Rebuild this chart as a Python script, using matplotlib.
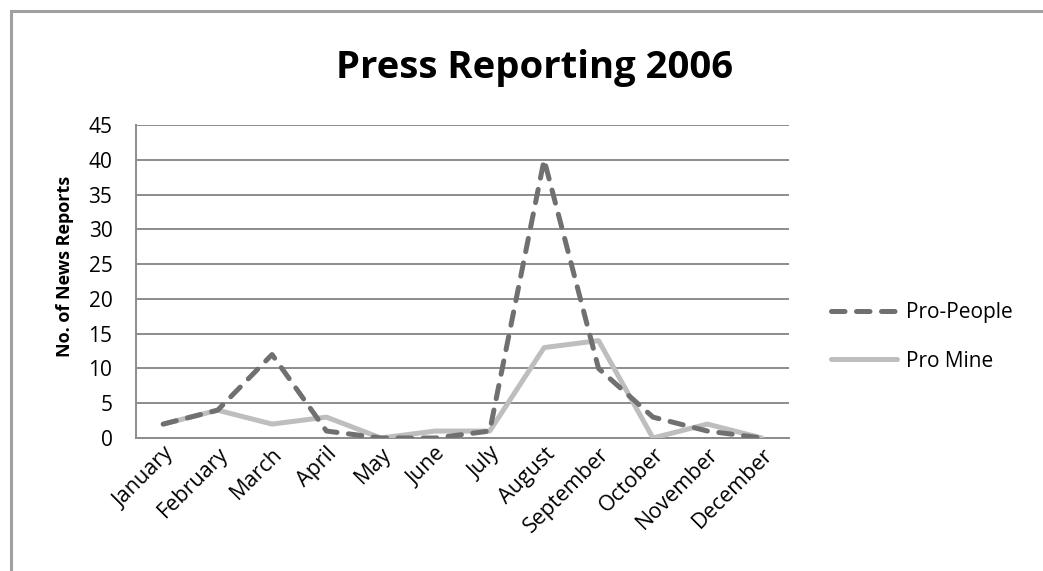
import matplotlib
matplotlib.use("Agg")
import matplotlib.pyplot as plt
from matplotlib.patches import Rectangle

months = ["January", "February", "March", "April", "May", "June", "July",
          "August", "September", "October", "November", "December"]
pro_people = [2, 4, 12, 1, 0, 0, 1, 40, 10, 3, 1, 0]
pro_mine = [2, 4, 2, 3, 0, 1, 1, 13, 14, 0, 2, 0]
yticks = [0, 5, 10, 15, 20, 25, 30, 35, 40, 45]

plt.rcParams['font.family'] = ['Open Sans', 'DejaVu Sans']

W, H = 1043, 571
fig = plt.figure(figsize=(W / 100, H / 100), dpi=100)
fig.patch.set_facecolor('white')

# outer frame (cropped at right and bottom)
fig.patches.append(Rectangle((11 / W, -0.2), 1.3, 1 - 11 / H + 0.2,
                             transform=fig.transFigure, fill=False,
                             edgecolor='#a0a0a0', linewidth=2.2))

ax = fig.add_axes([136 / W, (H - 438) / H, 653 / W, 313 / H])
x = list(range(len(months)))
ax.plot(x, pro_mine, color='#bebebe', linewidth=3.6, solid_capstyle='round',
        solid_joinstyle='round', label='Pro Mine', zorder=3)
ax.plot(x, pro_people, color='#707070', linewidth=3.6, dashes=(2.7, 2.3),
        dash_capstyle='round', dash_joinstyle='round', label='Pro-People', zorder=4)

ax.set_xlim(-0.5, len(months) - 0.5)
ax.set_ylim(0, 45)
ax.set_yticks(yticks)
ax.set_xticks(x)
ax.set_xticklabels(months, rotation=45, ha='right', rotation_mode='anchor', fontsize=15.5)
ax.tick_params(axis='y', labelsize=15, length=0, pad=17)
ax.tick_params(axis='x', length=0, pad=4)
ax.grid(axis='y', color='#8c8c8c', linewidth=1.4)
ax.set_axisbelow(True)
for s in ['top', 'right']:
    ax.spines[s].set_visible(False)
for s in ['left', 'bottom']:
    ax.spines[s].set_color('#8c8c8c')
    ax.spines[s].set_linewidth(1.4)

ax.set_ylabel('No. of News Reports', fontsize=13, fontweight='bold')
ax.yaxis.set_label_coords((74 - 136) / 653, (438 - 266) / 313)
fig.text((337 + 733) / 2 / W, 1 - 68 / H, 'Press Reporting 2006', ha='center',
         va='center', fontsize=27.5, fontweight='bold')

handles, labels = ax.get_legend_handles_labels()
leg = fig.legend(handles[::-1], labels[::-1], loc='center left',
                 bbox_to_anchor=(812 / W, 1 - 337 / H), frameon=False,
                 fontsize=15, handlelength=3.2, labelspacing=1.3, handletextpad=0.4)

fig.savefig('out.png', dpi=100)
